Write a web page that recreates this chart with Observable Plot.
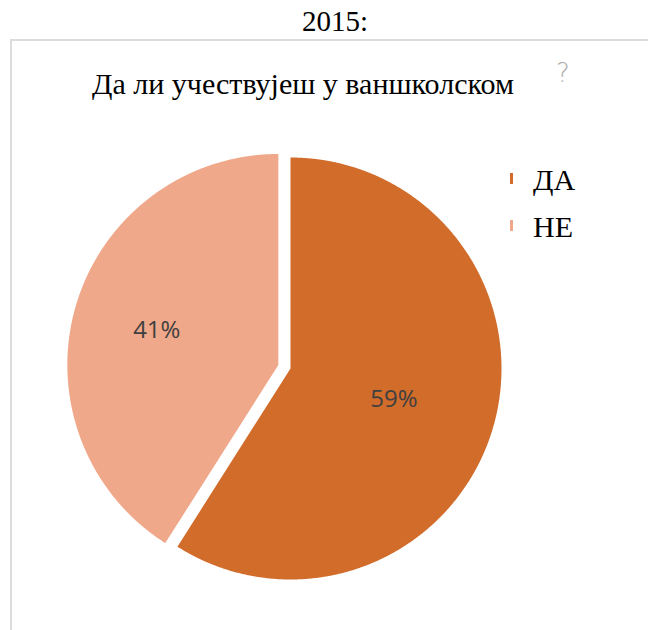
<!DOCTYPE html>
<html>
<head>
<meta charset="utf-8">
<script src="https://cdn.jsdelivr.net/npm/d3@7"></script>
<script src="https://cdn.jsdelivr.net/npm/@observablehq/plot@0.6"></script>
<style>
  html, body { margin: 0; padding: 0; background: #fff; }
  #page { position: relative; width: 648px; height: 630px; overflow: hidden; font-family: "Liberation Serif", "DejaVu Serif", serif; color: #000; }
  #year { position: absolute; left: 0; width: 670px; top: 5px; text-align: center; font-size: 29px; }
  #box { position: absolute; left: 10px; top: 39px; width: 660px; height: 620px; border-left: 2px solid #dcdcdc; border-top: 2px solid #dcdcdc; }
  #title { position: absolute; left: 0; width: 606px; top: 67px; text-align: center; font-size: 30px; white-space: nowrap; }
  #q { position: absolute; left: 556px; top: 58px; font-family: "DejaVu Sans", sans-serif; font-size: 26px; color: #b0b0b0; font-weight: 200; }
  #chart { position: absolute; left: 0; top: 0; }
  .lg { position: absolute; left: 510px; font-size: 30px; }
  .lg .sw { position: absolute; left: 0; width: 3px; height: 11px; }
  .lg .tx { position: absolute; left: 23px; white-space: nowrap; }
</style>
</head>
<body>
<div id="page">
  <div id="year">2015:</div>
  <div id="box"></div>
  <div id="chart"></div>
  <div id="title">Да ли учествујеш у ваншколском</div>
  <div id="q">?</div>
  <div id="legend"></div>
</div>
<script>
// ---- data ----
const categories = ["ДА", "НЕ"];
const values = [59, 41];
const labels = ["59%", "41%"];
const colors = ["#D16C2B", "#F0A88A"];

// ---- build slices ----
const rows = categories.map((c, i) => ({cat: c, value: values[i], label: labels[i]}));
const arcs = d3.pie().sort(null).value(d => d.value)(rows);
const explode = {"ДА": 0, "НЕ": 0.06};
const labelR = {"ДА": 0.51, "НЕ": 0.60};

const pts = [];
const lbls = [];
for (const a of arcs) {
  const mid = (a.startAngle + a.endAngle) / 2;
  const ox = explode[a.data.cat] * Math.sin(mid);
  const oy = explode[a.data.cat] * Math.cos(mid);
  pts.push({cat: a.data.cat, x: ox, y: oy});
  const n = Math.ceil((a.endAngle - a.startAngle) / (Math.PI / 720));
  for (let k = 0; k <= n; k++) {
    const t = a.startAngle + (a.endAngle - a.startAngle) * k / n;
    pts.push({cat: a.data.cat, x: ox + Math.sin(t), y: oy + Math.cos(t)});
  }
  const r = labelR[a.data.cat];
  lbls.push({cat: a.data.cat, label: a.data.label, x: ox + r * Math.sin(mid), y: oy + r * Math.cos(mid)});
}

const cx = 290, cy = 368, R = 211;
const chart = Plot.plot({
  width: 648,
  height: 630,
  margin: 0,
  style: {background: "transparent", overflow: "visible"},
  x: {domain: [-1, 1], range: [cx - R, cx + R], axis: null},
  y: {domain: [-1, 1], range: [cy + R, cy - R], axis: null},
  color: {domain: categories, range: colors},
  marks: [
    Plot.line(pts, {x: "x", y: "y", z: "cat", fill: "cat", stroke: "none", curve: "linear-closed"}),
    Plot.text(lbls, {x: "x", y: "y", text: "label", fill: "#404040", fontSize: 24, fontFamily: "Open Sans, sans-serif", textAnchor: "middle", dy: 1})
  ]
});
document.getElementById("chart").appendChild(chart);

// ---- legend ----
const legend = document.getElementById("legend");
const legendTop = [163, 210];
categories.forEach((c, i) => {
  const d = document.createElement("div");
  d.className = "lg";
  d.style.top = legendTop[i] + "px";
  d.innerHTML = `<div class="sw" style="background:${colors[i]};top:10px"></div><div class="tx">${c}</div>`;
  legend.appendChild(d);
});
</script>
</body>
</html>
